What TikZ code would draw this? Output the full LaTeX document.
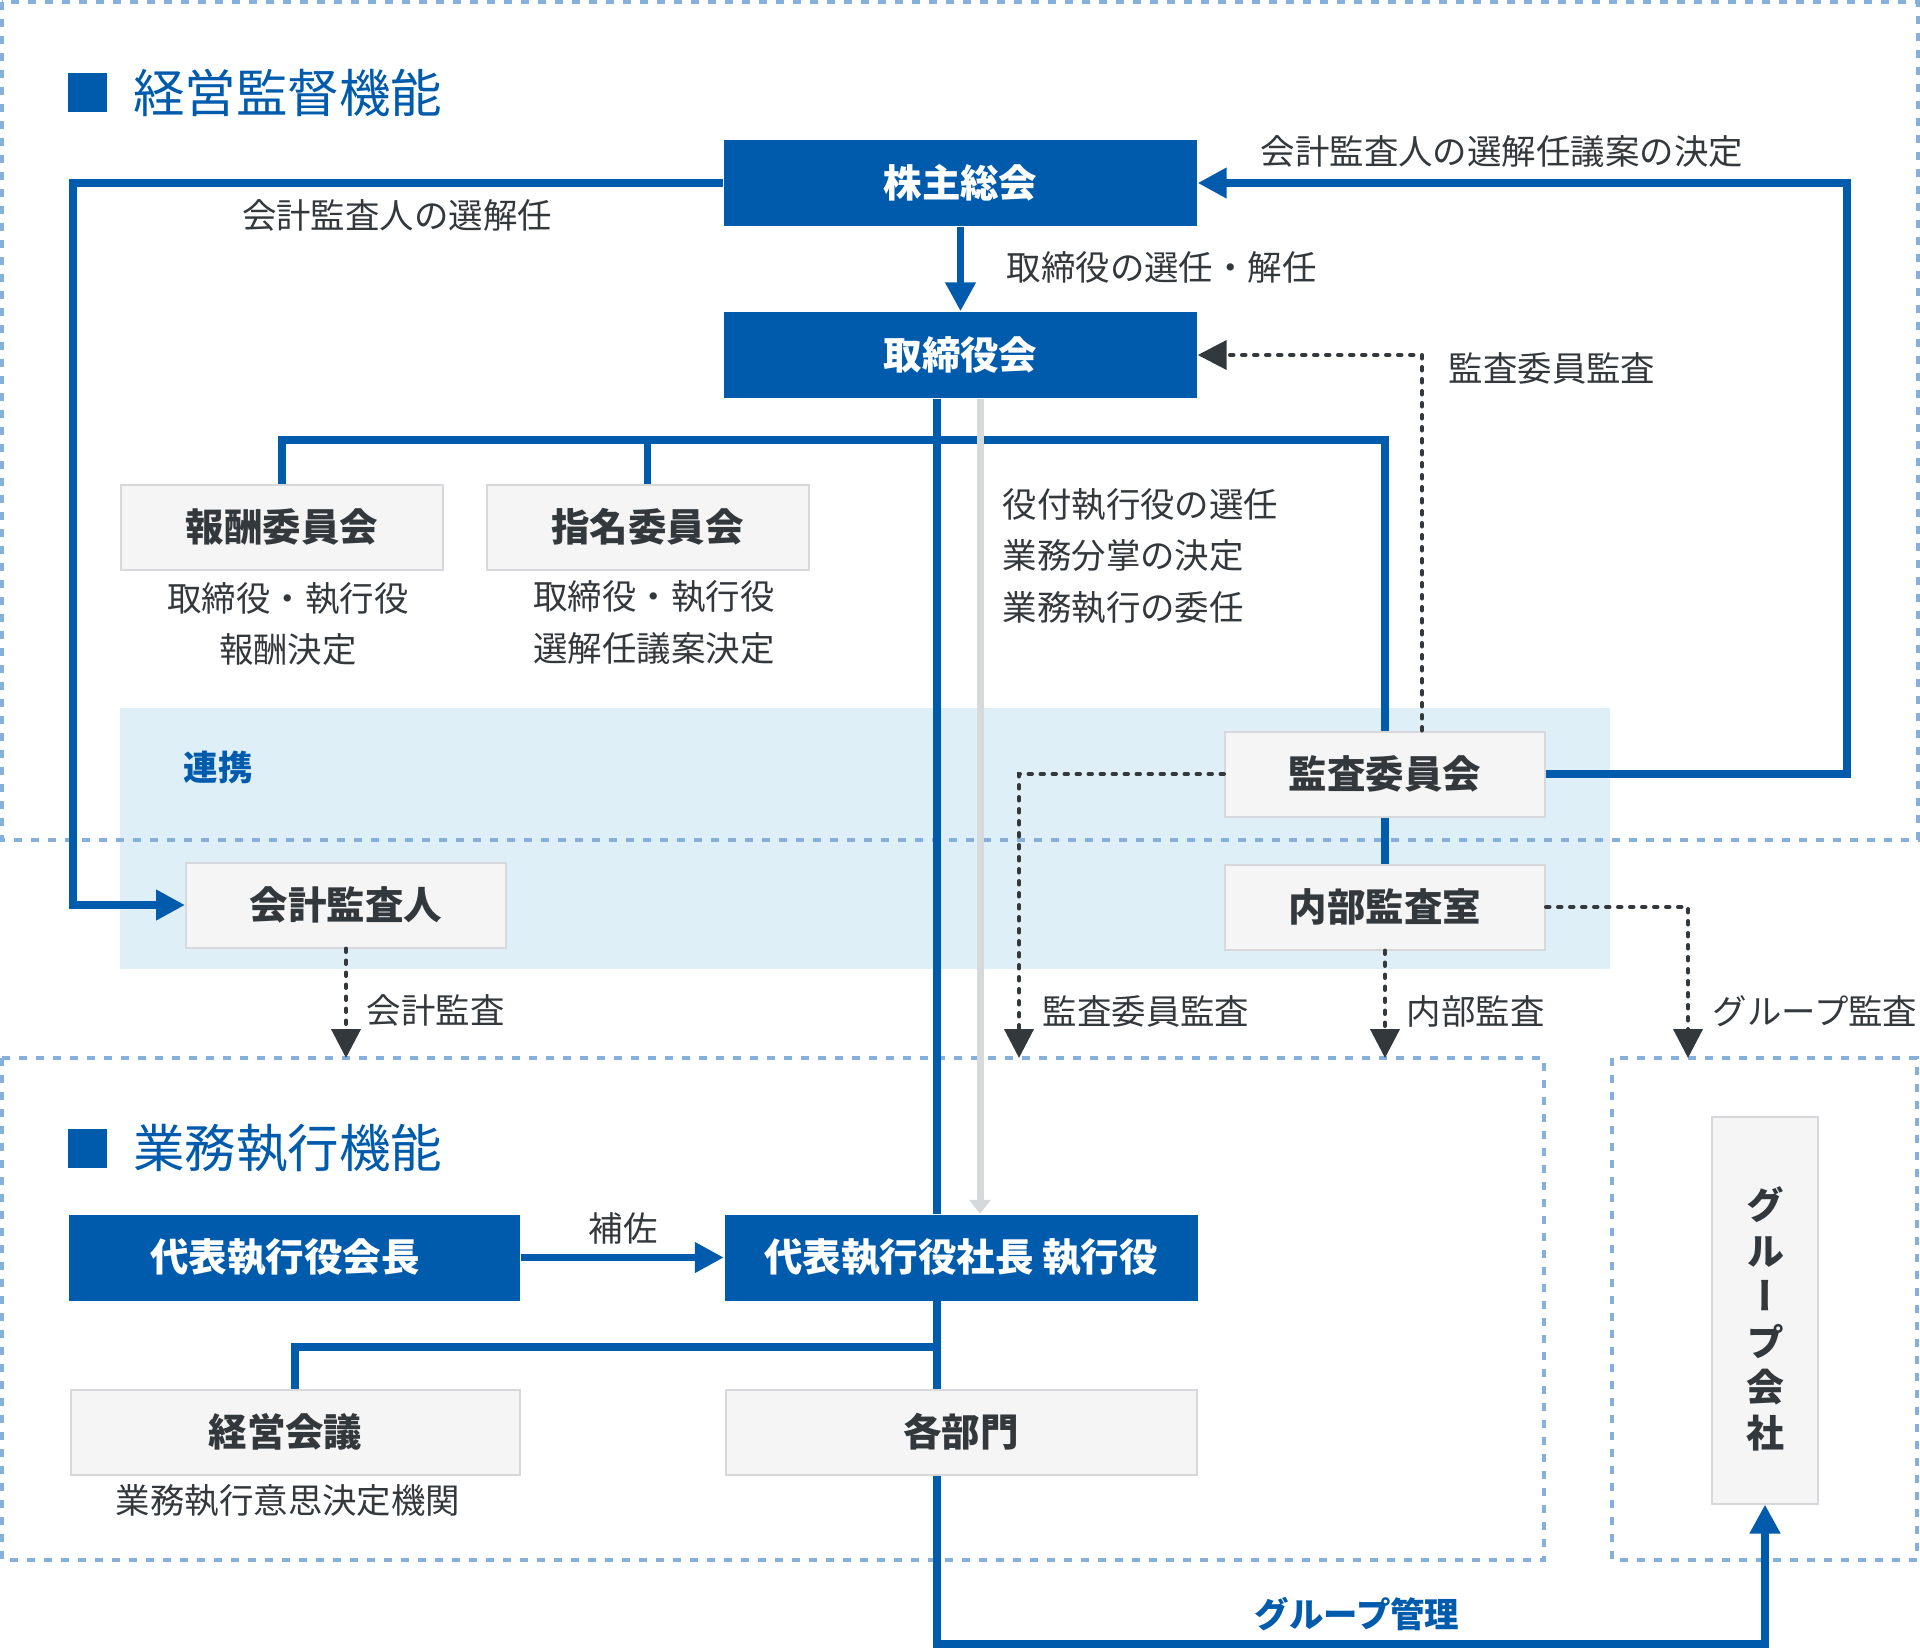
\documentclass[tikz,border=0pt]{standalone}
\usepackage{fontspec}
\setmainfont{Noto Sans CJK JP}
\newfontfamily\vertjp[RawFeature=+vert]{Noto Sans CJK JP}
\usepackage{tikz}
\usetikzlibrary{positioning}
\usetikzlibrary{arrows.meta}
\usetikzlibrary{calc}
\definecolor{govblue}{RGB}{0,91,172}
\definecolor{inktext}{RGB}{51,56,61}
\definecolor{framedash}{RGB}{133,176,220}
\definecolor{bandfill}{RGB}{223,239,247}
\definecolor{boxfill}{RGB}{245,245,245}
\definecolor{boxline}{RGB}{214,216,219}
\definecolor{arrowgray}{RGB}{214,217,220}
\tikzstyle{bluebox}=[rectangle,fill=govblue,text=white,font=\bfseries\fontsize{10.95}{13}\selectfont,minimum height=8.6mm,inner sep=0pt]
\tikzstyle{graybox}=[rectangle,fill=boxfill,draw=boxline,line width=0.2mm,text=inktext,font=\bfseries\fontsize{10.95}{13}\selectfont,minimum height=8.5mm,inner sep=0pt]
\tikzstyle{mainline}=[draw,line width=0.78mm,govblue]
\tikzstyle{delegline}=[draw,line width=0.7mm,arrowgray]
\tikzstyle{auditline}=[draw,line width=0.4mm,inktext,line cap=round,dash pattern=on 0.35mm off 0.85mm]
\tikzstyle{frame}=[draw=framedash,line width=0.4mm,dash pattern=on 0.8mm off 0.9mm]
\tikzstyle{note}=[inner sep=0pt,text=inktext,font=\fontsize{9.8}{14.65}\selectfont]
\tikzstyle{bluenote}=[inner sep=0pt,text=govblue,font=\bfseries\fontsize{9.8}{14.65}\selectfont]
\tikzstyle{heading}=[inner sep=0pt,text=govblue,font=\fontsize{14.65}{17}\selectfont]
\tikzset{headmark/.style={rectangle,fill=govblue,minimum size=3.9mm,inner sep=0pt}}

\begin{document}
\begin{tikzpicture}[x=0.1mm,y=-0.1mm,>={Triangle[length=2.9mm,width=2.9mm]}]

   \useasboundingbox (0,0) rectangle (1920,1649);

   % areas
   \fill[bandfill] (120,708) rectangle (1610,969);
   \draw[frame] (2,2) rectangle (1918,840);
   \draw[frame] (2,1058) rectangle (1544,1560);
   \draw[frame] (1612,1058) rectangle (1917,1560);

   \node[headmark] (mark1) at (87.5,92.5) {};
   \node[heading,right=2.5mm of mark1] (head1) {経営監督機能};
   \node[headmark] (mark2) at (87.5,1148) {};
   \node[heading,right=2.5mm of mark2] (head2) {業務執行機能};

  \foreach \x/\y/\w/\name/\label in {960.5/183/473/soukai/株主総会, 960.5/355/473/torishimari/取締役会,
          294.5/1257.5/451/kaicho/{\hspace*{-1.9mm}代表執行役会長}, 961/1257.5/473/shacho/代表執行役社長 執行役}
          \node[bluebox,minimum width=\w*0.1mm] (\name) at (\x,\y) {\label};

  \foreach \x/\y/\w/\name/\label in {282/527/322/housyu/報酬委員会, 647.5/527/322/shimei/指名委員会,
          1385/774/320/kansa/監査委員会, 1385/907/320/naibu/内部監査室, 346/905/320/kaikei/会計監査人,
          295/1432/449/keiei/{\hspace*{-1.9mm}経営会議}, 961/1432/471/kakubu/各部門}
          \node[graybox,minimum width=\w*0.1mm] (\name) at (\x,\y) {\label};

   \node[graybox,minimum width=10.6mm,minimum height=38.7mm,align=center,
         font=\vertjp\bfseries\fontsize{10.8}{12.95}\selectfont] (group) at (1765,1310)
         {\rule{0pt}{5.1mm}グ\\ル\\ー\\プ\\会\\社};

   \coordinate (execline) at (937,0);
   \coordinate (delegx) at (980,0);
   \coordinate (auditx) at (1422,0);
   \coordinate (lefttop) at (73,183);
   \coordinate (righttop) at (1847,183);
   \coordinate (cmtbar) at (1385,440);
   \coordinate (execjoin) at (937,1347);
   \coordinate (groupmgmt) at (937,1644);
   \coordinate (kaikeiend) at (346,1058);
   \coordinate (kansaend) at (1019,1058);
   \coordinate (naibuend) at (1385,1058);
   \coordinate (groupend) at (1688,1058);

   % supervision
   \path[mainline,->] (soukai) -- (torishimari);
   \path[mainline,->] (soukai.west) -- (lefttop) |- (kaikei.west);
   \path[mainline,->] (kansa.east) -| (righttop) -- (soukai.east);
   \path[mainline] (housyu.north) |- (cmtbar) -- (kansa.north);
   \path[mainline] (shimei.north) -- (shimei.north |- cmtbar);
   \path[mainline] (kansa) -- (naibu);
   \path[mainline] (torishimari.south -| execline) -- (shacho.north -| execline);
   \path[delegline,-{Triangle[length=1.4mm,width=2.1mm]}] (torishimari.south -| delegx) -- (shacho.north -| delegx);

   % audits
   \path[auditline,->] (kansa.north -| auditx) |- (torishimari.east);
   \path[auditline,->] (kansa.west) -| (kansaend);
   \path[auditline,->] (naibu) -- (naibuend);
   \path[auditline,->] (naibu.east) -| (groupend);
   \path[auditline,->] (kaikei) -- (kaikeiend);

   % execution
   \path[mainline,->] (kaicho) -- (shacho);
   \path[mainline] (shacho.south -| execline) -- (kakubu.north -| execline);
   \path[mainline] (keiei.north) |- (execjoin);
   \path[mainline,->] (kakubu.south -| execline) -- (groupmgmt) -| (group.south);

  \foreach \x/\y/\name/\label in {1006/267/lblelect/取締役の選任・解任, 1260/152/lblproposal/会計監査人の選解任議案の決定,
          1448/368/lblboard/監査委員監査, 1042/1011/lblcmt/監査委員監査, 1406/1011/lblinternal/内部監査,
          1712/1011/lblgroup/グループ監査, 366/1010/lblaccount/会計監査}
          \node[note,anchor=west] (\name) at (\x,\y) {\label};

  \foreach \x/\y/\name/\label in {397/215/lblappoint/会計監査人の選解任, 288/624/lblpay/{取締役・執行役\\報酬決定},
          654/622.5/lblnominate/{取締役・執行役\\選解任議案決定}, 623/1228/lblassist/補佐,
          288/1501/lbldecide/業務執行意思決定機関}
          \node[note,align=center] (\name) at (\x,\y) {\label};

   \node[note,anchor=west,align=left] (lbldelegate) at (1002,556) {役付執行役の選任\\業務分掌の決定\\業務執行の委任};
   \node[bluenote] (lblcoop) at (218,767.5) {連携};
   \node[bluenote] (lblmgmt) at (1357,1614) {グループ管理};

\end{tikzpicture}
\end{document}
